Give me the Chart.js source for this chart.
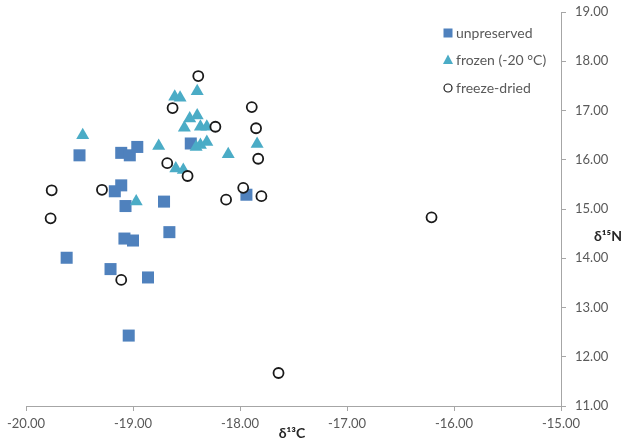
<!DOCTYPE html>
<html>
<head>
<meta charset="utf-8">
<script src="https://cdn.jsdelivr.net/npm/chart.js@4/dist/chart.umd.min.js"></script>
<style>
  html, body { margin: 0; padding: 0; background: #fff; }
  #wrap { width: 624px; height: 442px; position: relative; }
</style>
</head>
<body>
<div id="wrap"><canvas id="myScatterChart"></canvas></div>
<script>
// series values (x = d13C, y = d15N)
var unpreservedX = [-19.50, -19.11, -19.03, -18.96, -18.46, -19.11, -19.17, -19.07, -18.71, -17.94, -19.08, -19.00, -18.66, -19.62, -19.21, -18.86, -19.04];
var unpreservedY = [16.09, 16.14, 16.09, 16.26, 16.33, 15.48, 15.36, 15.06, 15.15, 15.29, 14.40, 14.36, 14.53, 14.01, 13.78, 13.61, 12.43];

var frozenX = [-19.47, -18.76, -18.61, -18.56, -18.40, -18.47, -18.40, -18.52, -18.37, -18.31, -18.41, -18.37, -18.31, -18.11, -17.84, -18.60, -18.53, -18.97];
var frozenY = [16.50, 16.28, 17.28, 17.26, 17.39, 16.84, 16.90, 16.65, 16.67, 16.67, 16.26, 16.30, 16.36, 16.11, 16.32, 15.82, 15.79, 15.15];

var freezeDriedX = [-18.39, -18.63, -17.89, -18.23, -17.85, -17.83, -18.68, -18.49, -19.76, -19.29, -17.97, -17.80, -18.13, -19.77, -19.11, -17.64, -16.21];
var freezeDriedY = [17.70, 17.05, 17.07, 16.67, 16.64, 16.02, 15.93, 15.67, 15.38, 15.39, 15.43, 15.26, 15.19, 14.81, 13.56, 11.67, 14.83];

var seriesNames = ["unpreserved", "frozen (-20 °C)", "freeze-dried"];
var xTitle = "δ¹³C";
var yTitle = "δ¹⁵N";

function toPoints(xs, ys) {
  return xs.map(function (x, i) { return { x: x, y: ys[i] }; });
}

var blue = "#4F81BD";
var aqua = "#4BACC6";
var axisGray = "#A6A6A6";
var labelGray = "#595959";
var fontFamily = "Lato, 'Open Sans', sans-serif";

// legend and axis titles drawn by hand, like the Excel layout
var overlayPlugin = {
  id: "overlay",
  afterDraw: function (chart) {
    var ctx = chart.ctx;
    ctx.save();
    var items = [
      { y: 33, shape: "square" },
      { y: 60, shape: "triangle" },
      { y: 88, shape: "circle" }
    ];
    items.forEach(function (it, i) {
      var cx = 448, cy = it.y;
      ctx.beginPath();
      if (it.shape === "square") {
        ctx.fillStyle = blue;
        ctx.fillRect(cx - 4.5, cy - 4.5, 9, 9);
      } else if (it.shape === "triangle") {
        ctx.fillStyle = aqua;
        ctx.moveTo(cx, cy - 5.5);
        ctx.lineTo(cx + 5, cy + 4);
        ctx.lineTo(cx - 5, cy + 4);
        ctx.closePath();
        ctx.fill();
      } else {
        ctx.fillStyle = "#fff";
        ctx.strokeStyle = "#1a1a1a";
        ctx.lineWidth = 1.2;
        ctx.arc(cx, cy, 4, 0, Math.PI * 2);
        ctx.fill();
        ctx.stroke();
      }
      ctx.fillStyle = labelGray;
      ctx.font = "14px " + fontFamily;
      ctx.textAlign = "left";
      ctx.textBaseline = "middle";
      ctx.fillText(seriesNames[i], 456, cy);
    });

    ctx.fillStyle = "#262626";
    ctx.font = "bold 14px " + fontFamily;
    ctx.textBaseline = "middle";
    ctx.textAlign = "center";
    ctx.fillText(xTitle, 292, 433);
    ctx.fillText(yTitle, 608, 236);
    ctx.restore();
  }
};

var ctxEl = document.getElementById("myScatterChart");

var scatterChartConfig = {
  type: "scatter",
  data: {
    datasets: [
      {
        label: seriesNames[0],
        data: toPoints(unpreservedX, unpreservedY),
        pointStyle: "rect",
        pointRadius: 8.5,
        pointHoverRadius: 8.5,
        backgroundColor: blue,
        borderColor: blue,
        borderWidth: 0,
        order: 3
      },
      {
        label: seriesNames[1],
        data: toPoints(frozenX, frozenY),
        pointStyle: "triangle",
        pointRadius: 7.5,
        pointHoverRadius: 7.5,
        backgroundColor: aqua,
        borderColor: aqua,
        borderWidth: 0,
        order: 2
      },
      {
        label: seriesNames[2],
        data: toPoints(freezeDriedX, freezeDriedY),
        pointStyle: "circle",
        pointRadius: 5,
        pointHoverRadius: 5,
        backgroundColor: "#ffffff",
        borderColor: "#1a1a1a",
        borderWidth: 1.8,
        order: 1
      }
    ]
  },
  options: {
    responsive: true,
    maintainAspectRatio: false,
    animation: false,
    layout: { padding: { left: 26, top: 12, right: 0, bottom: 0 } },
    plugins: {
      legend: { display: false },
      tooltip: { enabled: false }
    },
    scales: {
      x: {
        type: "linear",
        min: -20,
        max: -15,
        afterFit: function (scale) {
          scale.height = 36;
          scale.paddingLeft = 0;
          scale.paddingRight = 0;
        },
        ticks: {
          stepSize: 1,
          color: labelGray,
          font: { family: fontFamily, size: 13 },
          padding: 5,
          maxRotation: 0,
          callback: function (v) { return v.toFixed(2); }
        },
        grid: { display: true, drawOnChartArea: false, drawTicks: true, tickLength: 5, color: axisGray },
        border: { display: true, color: axisGray, width: 1 }
      },
      y: {
        type: "linear",
        position: "right",
        min: 11,
        max: 19,
        afterFit: function (scale) {
          scale.width = 63;
          scale.paddingTop = 0;
          scale.paddingBottom = 0;
        },
        ticks: {
          stepSize: 1,
          color: labelGray,
          font: { family: fontFamily, size: 13 },
          padding: 9,
          callback: function (v) { return v.toFixed(2); }
        },
        grid: { display: true, drawOnChartArea: false, drawTicks: true, tickLength: 5, color: axisGray },
        border: { display: true, color: axisGray, width: 1 }
      }
    }
  },
  plugins: [overlayPlugin]
};

var scatterChart = new Chart(ctxEl, scatterChartConfig);
</script>
</body>
</html>
